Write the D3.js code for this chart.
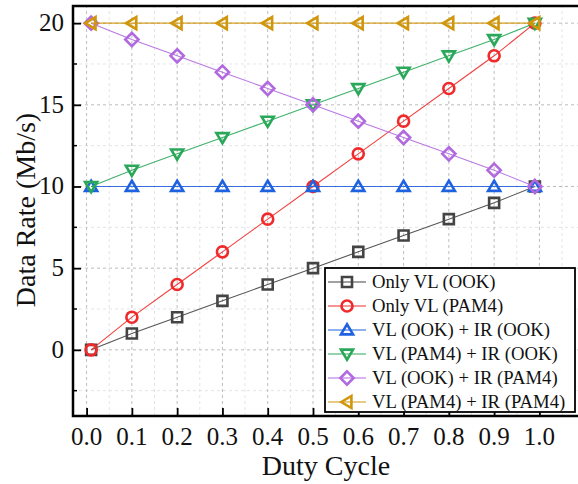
<!DOCTYPE html>
<html>
<head>
<meta charset="UTF-8">
<script src="https://d3js.org/d3.v7.min.js"></script>
<style>
    @font-face { font-family: "SerifX"; src: local("Liberation Serif"), local("LiberationSerif"), local("Times New Roman"); }
    svg text { font-family: "Liberation Serif", SerifX, "Times New Roman", Tinos, Times !important; }
</style>
</head>
<body style="margin:0">
<script>
// duty cycle points (ends sit just inside 0 and 1)
const duty = [0.01, 0.1, 0.2, 0.3, 0.4, 0.5, 0.6, 0.7, 0.8, 0.9, 0.99];

const seriesNames = [
    "Only VL (OOK)",
    "Only VL (PAM4)",
    "VL (OOK) + IR (OOK)",
    "VL (PAM4) + IR (OOK)",
    "VL (OOK) + IR (PAM4)",
    "VL (PAM4) + IR (PAM4)"
];
const onlyOOK   = [0, 1, 2, 3, 4, 5, 6, 7, 8, 9, 10];
const onlyPAM4  = [0, 2, 4, 6, 8, 10, 12, 14, 16, 18, 20];
const ookOok    = [10, 10, 10, 10, 10, 10, 10, 10, 10, 10, 10];
const pam4Ook   = [10, 11, 12, 13, 14, 15, 16, 17, 18, 19, 20];
const ookPam4   = [20, 19, 18, 17, 16, 15, 14, 13, 12, 11, 10];
const pam4Pam4  = [20, 20, 20, 20, 20, 20, 20, 20, 20, 20, 20];

const xTicks = [0, 0.1, 0.2, 0.3, 0.4, 0.5, 0.6, 0.7, 0.8, 0.9, 1.0];
const yTicks = [0, 5, 10, 15, 20];

const colors  = ["#444444", "#f02a2a", "#1f62e0", "#2aa85a", "#b169e0", "#d0960c"];
const shapes  = ["square", "circle", "up", "down", "diamond", "left"];
const allData = [onlyOOK, onlyPAM4, ookOok, pam4Ook, ookPam4, pam4Pam4];

const FONT = '"Liberation Serif"';

const svg = d3.select("body").append("svg")
    .attr("width", 578).attr("height", 484);

const x = d3.scaleLinear().domain([-0.03, 1.1]).range([73, 584.7]);
const y = d3.scaleLinear().domain([-4.05, 21.05]).range([416, 6]);

// grid
const minorX = d3.range(0, 1.11, 0.05).filter(v => Math.abs(Math.round(v * 10) - v * 10) > 0.01);
const minorY = [-2.5, 2.5, 7.5, 12.5, 17.5];

svg.append("g").selectAll("line").data(minorX).join("line")
    .attr("x1", d => x(d)).attr("x2", d => x(d))
    .attr("y1", y.range()[0]).attr("y2", y.range()[1])
    .attr("stroke", "#e4e4e4").attr("stroke-dasharray", "3,3");
svg.append("g").selectAll("line").data(minorY).join("line")
    .attr("y1", d => y(d)).attr("y2", d => y(d))
    .attr("x1", x.range()[0]).attr("x2", x.range()[1])
    .attr("stroke", "#e4e4e4").attr("stroke-dasharray", "3,3");
svg.append("g").selectAll("line").data(xTicks).join("line")
    .attr("x1", d => x(d)).attr("x2", d => x(d))
    .attr("y1", y.range()[0]).attr("y2", y.range()[1])
    .attr("stroke", "#bdbdbd").attr("stroke-dasharray", "3,3");
svg.append("g").selectAll("line").data(yTicks).join("line")
    .attr("y1", d => y(d)).attr("y2", d => y(d))
    .attr("x1", x.range()[0]).attr("x2", x.range()[1])
    .attr("stroke", "#bdbdbd").attr("stroke-dasharray", "3,3");

// axes (ticks point inward, labels drawn separately)
const xAxis = svg.append("g").attr("transform", `translate(0,${y.range()[0]})`)
    .call(d3.axisTop(x).tickValues(xTicks).tickSize(8));
xAxis.selectAll("text").remove();
xAxis.attr("font-family", null);
svg.selectAll("text.xl").data(xTicks).join("text").attr("class", "xl")
    .attr("x", d => x(d)).attr("y", 445)
    .attr("text-anchor", "middle")
    .style("font-family", FONT).attr("font-size", 25).attr("fill", "#111")
    .text(d3.format(".1f"));

const yAxis = svg.append("g").attr("transform", `translate(${x.range()[0]},0)`)
    .call(d3.axisRight(y).tickValues(yTicks).tickSize(8));
yAxis.selectAll("text").remove();
yAxis.attr("font-family", null);
svg.selectAll("text.yl").data(yTicks).join("text").attr("class", "yl")
    .attr("x", 64).attr("y", d => y(d) + 8)
    .attr("text-anchor", "end")
    .style("font-family", FONT).attr("font-size", 25).attr("fill", "#111")
    .text(d => d);

// minor ticks
svg.append("g").selectAll("line").data(minorY).join("line")
    .attr("x1", x.range()[0]).attr("x2", x.range()[0] + 4)
    .attr("y1", d => y(d)).attr("y2", d => y(d)).attr("stroke", "#000").attr("stroke-width", 1.5);

[xAxis, yAxis].forEach(a => {
    a.select(".domain").remove();
    a.selectAll(".tick line").attr("stroke", "#000").attr("stroke-width", 1.8);
});

// frame
svg.append("path")
    .attr("d", `M${x.range()[1]},${y.range()[1]} H${x.range()[0]} V${y.range()[0]} H${x.range()[1]}`)
    .attr("fill", "none").attr("stroke", "#000").attr("stroke-width", 2.5);

// marker shapes
function markerPath(shape, s) {
    const h = s / 2;
    switch (shape) {
        case "square": return `M${-h},${-h}H${h}V${h}H${-h}Z`;
        case "circle": return `M${h},0A${h},${h} 0 1,1 ${-h},0A${h},${h} 0 1,1 ${h},0Z`;
        case "up": return `M0,${-h * 1.05}L${h * 1.1},${h * 0.8}H${-h * 1.1}Z`;
        case "down": return `M0,${h * 1.05}L${h * 1.1},${-h * 0.8}H${-h * 1.1}Z`;
        case "left": return `M${-h * 1.05},0L${h * 0.8},${-h * 1.1}V${h * 1.1}Z`;
        case "diamond": return `M0,${-h * 1.2}L${h * 1.2},0L0,${h * 1.2}L${-h * 1.2},0Z`;
    }
}

const line = d3.line().x((d, i) => x(duty[i])).y(d => y(d));

allData.forEach((vals, k) => {
    const g = svg.append("g");
    g.append("path").datum(vals)
        .attr("d", line).attr("fill", "none")
        .attr("stroke", colors[k]).attr("stroke-width", 1.1).attr("opacity", 0.9);
    g.selectAll("path.m").data(vals).join("path").attr("class", "m")
        .attr("transform", (d, i) => `translate(${x(duty[i])},${y(d)})`)
        .attr("d", markerPath(shapes[k], k === 0 ? 10 : 11))
        .attr("fill", "none").attr("stroke", colors[k]).attr("stroke-width", 2.6);
});

// legend
svg.append("rect")
    .attr("x", 325).attr("y", 268).attr("width", 250).attr("height", 144)
    .attr("fill", "#fff").attr("stroke", "#000").attr("stroke-width", 1.8);
seriesNames.forEach((name, k) => {
    const ly = 282 + k * 24;
    svg.append("line").attr("x1", 328).attr("x2", 366).attr("y1", ly).attr("y2", ly)
        .attr("stroke", colors[k]).attr("stroke-width", 1.2);
    svg.append("path").attr("transform", `translate(347,${ly})`)
        .attr("d", markerPath(shapes[k], k === 0 ? 10 : 11))
        .attr("fill", "none").attr("stroke", colors[k]).attr("stroke-width", 2.6);
});
svg.selectAll("text.lg").data(seriesNames).join("text").attr("class", "lg")
    .attr("x", 372).attr("y", (d, k) => 288 + k * 24)
    .style("font-family", FONT).attr("font-size", 18.7).attr("fill", "#111")
    .text(d => d);

// axis titles
svg.append("text").attr("x", 326).attr("y", 475)
    .attr("text-anchor", "middle")
    .style("font-family", FONT).attr("font-size", 28).attr("fill", "#111")
    .text("Duty Cycle");
svg.append("text").attr("transform", "translate(35,210) rotate(-90)")
    .attr("text-anchor", "middle")
    .style("font-family", FONT).attr("font-size", 28).attr("fill", "#111")
    .text("Data Rate (Mb/s)");
</script>
</body>
</html>
